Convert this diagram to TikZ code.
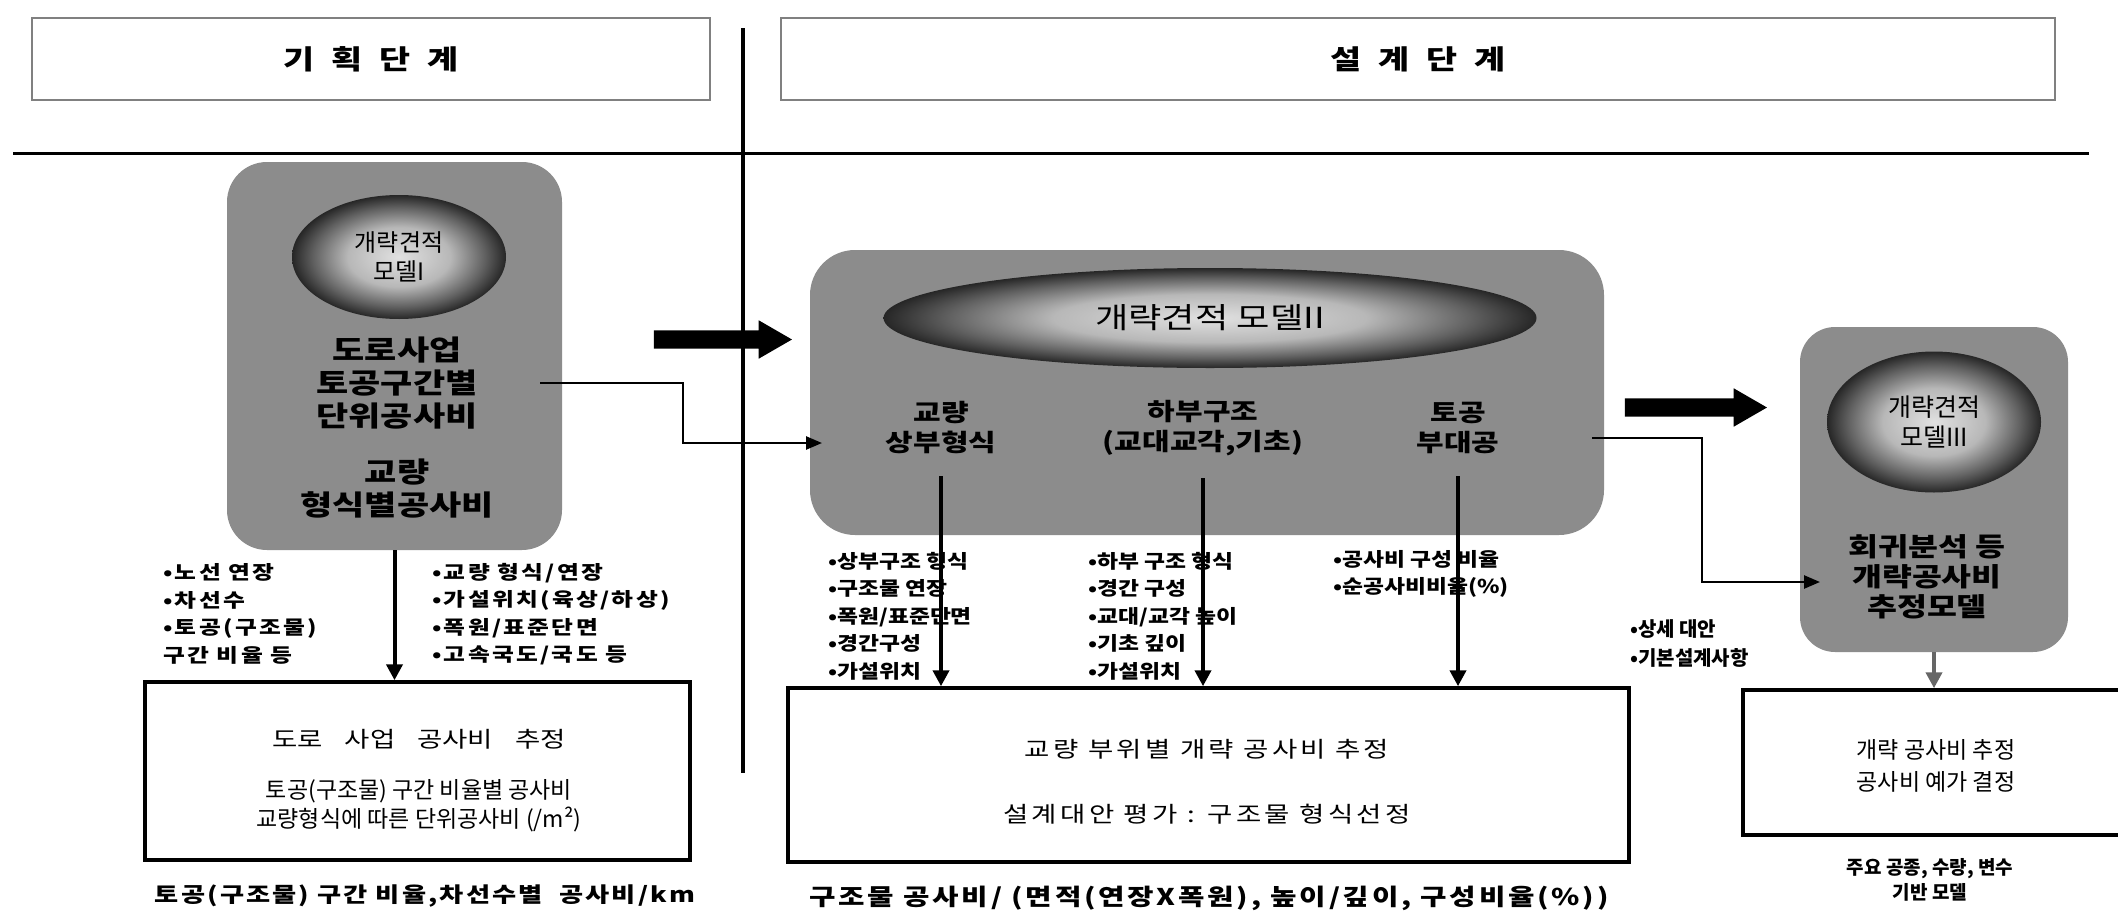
\documentclass[tikz,border=0pt]{standalone}
\usepackage{fontspec}
\setmainfont{Noto Sans CJK KR}
\newfontfamily\wfont[FakeStretch=1.25]{Noto Sans CJK KR}
\newfontfamily\mfont[FakeStretch=1.2]{Noto Sans CJK KR}
\usetikzlibrary{shapes.geometric,shapes.arrows,arrows.meta,calc}
\pgfdeclareradialshading{ellsh}{\pgfpoint{0bp}{0bp}}{color(0bp)=(black!12); color(12bp)=(black!28); color(20bp)=(black!62); color(25bp)=(black!85); color(50bp)=(black!85)}
\tikzset{
  hdr/.style={draw=black!50, line width=2pt, inner sep=0pt, font=\wfont\fontsize{27}{30}\selectfont\bfseries},
  gbox/.style={fill=black!45, rounded corners=40pt, inner sep=0pt},
  ell/.style={ellipse, shade, shading=ellsh, inner sep=0pt, align=center},
  elltxt/.style={font=\fontsize{24}{29}\selectfont},
  bigtxt/.style={font=\wfont\fontsize{28}{33}\selectfont\bfseries, align=center, inner sep=0pt},
  subtxt/.style={font=\wfont\fontsize{24}{30}\selectfont\bfseries, align=center, inner sep=0pt},
  bulL/.style={font=\wfont\fontsize{19}{27.5}\selectfont\bfseries\addfontfeatures{LetterSpace=12}, align=left, inner sep=0pt, anchor=west},
  bulM/.style={font=\mfont\fontsize{19}{27.5}\selectfont\bfseries, align=left, inner sep=0pt, anchor=west},
  bulR/.style={font=\fontsize{20}{29}\selectfont\bfseries, align=left, inner sep=0pt, anchor=west},
  outbox/.style={draw=black, line width=3.5pt, inner sep=0pt},
  boxtxt/.style={font=\fontsize{23}{29}\selectfont, align=center, inner sep=0pt},
  boxtxtw/.style={font=\wfont\fontsize{22}{29}\selectfont\addfontfeatures{LetterSpace=15}, align=center, inner sep=0pt},
  captxt/.style={font=\wfont\fontsize{21}{26}\selectfont\bfseries\addfontfeatures{LetterSpace=10}, align=center, inner sep=0pt},
  varrow/.style={line width=4pt, -{Triangle[length=16pt,width=16pt]}},
  conn/.style={line width=2.5pt, -{Triangle[length=16pt,width=13pt]}},
  bigarrow/.style={single arrow, fill=black, inner xsep=0pt, inner ysep=9pt, minimum width=0pt, single arrow head extend=10pt, single arrow tip angle=60}
}
\begin{document}
\begin{tikzpicture}[x=1pt,y=-1pt]
\clip (0,0) rectangle (2118,918);
\fill[white] (0,0) rectangle (2118,918);

% headers
\node[hdr, minimum width=678pt, minimum height=82pt] (h1) at (371,59) {기\hspace{17pt}획\hspace{17pt}단\hspace{17pt}계};
\node[hdr, minimum width=1274pt, minimum height=82pt] (h2) at (1418,59) {설\hspace{17pt}계\hspace{17pt}단\hspace{17pt}계};
\coordinate (hl1) at (13,153);
\coordinate (hl2) at (2089,153);
\draw[line width=3pt] (hl1) -- (hl2);
\coordinate (vl1) at (743,28);
\coordinate (vl2) at (743,773);
\draw[line width=4pt] (vl1) -- (vl2);

% Model I
\node[gbox, minimum width=335pt, minimum height=388pt] (m1) at (394.5,356) {};
\node[ell, elltxt, minimum width=214pt, minimum height=124pt] (e1) at (399,257) {개략견적\\모델I};
\node[bigtxt] (t1) at (397,383) {도로사업\\토공구간별\\단위공사비};
\node[bigtxt] (t2) at (397,489) {교량\\형식별공사비};

% Model II
\node[gbox, rounded corners=45pt, minimum width=794pt, minimum height=285pt] (m2) at (1207,392.5) {};
\node[ell, font=\wfont\fontsize{29}{32}\selectfont, minimum width=653pt, minimum height=100pt] (e2) at (1210,318) {개략견적 모델II};
\node[subtxt] (s1) at (941,428) {교량\\상부형식};
\node[subtxt] (s2) at (1203,428) {하부구조\\(교대교각,기초)};
\node[subtxt] (s3) at (1458,428) {토공\\부대공};

% Model III
\node[gbox, rounded corners=35pt, minimum width=268pt, minimum height=325pt] (m3) at (1934,489.5) {};
\node[ell, font=\fontsize{25}{30}\selectfont, minimum width=214pt, minimum height=141pt] (e3) at (1934,422) {개략견적\\모델III};
\node[bigtxt, font=\wfont\fontsize{26}{30}\selectfont\bfseries] (t3) at (1927,577) {회귀분석 등\\개략공사비\\추정모델};

% big arrows
\node[bigarrow, minimum height=138pt] (ba1) at (715,339.5) {};
\node[bigarrow, minimum height=142pt] (ba2) at (1688,407.5) {};

% bullets
\node[bulL] (l1) at (163,614) {•노선 연장\\•차선수\\•토공(구조물)\\구간 비율 등};
\node[bulL] (l2) at (432,614) {•교량 형식/연장\\•가설위치(육상/하상)\\•폭원/표준단면\\•고속국도/국도 등};
\node[bulM] (n1) at (828,616) {•상부구조 형식\\•구조물 연장\\•폭원/표준단면\\•경간구성\\•가설위치};
\node[bulM] (n2) at (1088,616) {•하부 구조 형식\\•경간 구성\\•교대/교각 높이\\•기초 깊이\\•가설위치};
\node[bulM] (n3) at (1333,574) {•공사비 구성 비율\\•순공사비비율(\%)};
\node[bulR] (r1) at (1630,644) {•상세 대안\\•기본설계사항};

% output boxes
\node[outbox, minimum width=545pt, minimum height=178pt] (b1) at (417.5,771) {};
\node[boxtxt, font=\wfont\fontsize{22}{29}\selectfont] (b1a) at (419,739) {도로\hspace{22pt}사업\hspace{22pt}공사비\hspace{22pt}추정};
\node[boxtxt] (b1b) at (419,806) {토공(구조물) 구간 비율별 공사비\\교량형식에 따른 단위공사비 (/m²)};
\node[captxt] (c1) at (425,896) {토공(구조물) 구간 비율,차선수별\hspace{0.8em}공사비/km};

\node[outbox, minimum width=841pt, minimum height=174pt] (b2) at (1208.5,775) {};
\node[boxtxtw] (b2a) at (1207,749) {교량 부위별 개략 공사비 추정};
\node[boxtxtw] (b2b) at (1207,814) {설계대안 평가 : 구조물 형식선정};
\node[captxt, font=\wfont\fontsize{23}{26}\selectfont\bfseries\addfontfeatures{LetterSpace=12}] (c2) at (1209,898) {구조물 공사비/ (면적(연장X폭원), 높이/깊이, 구성비율(\%))};

\node[outbox, minimum width=390pt, minimum height=145pt] (b3) at (1938,762.5) {};
\node[boxtxt, font=\fontsize{23}{32}\selectfont] (b3a) at (1936,766) {개략 공사비 추정\\공사비 예가 결정};
\node[captxt, font=\fontsize{19}{25}\selectfont\bfseries] (c3) at (1930,880) {주요 공종, 수량, 변수\\기반 모델};

% vertical arrows
\draw[varrow] (m1.south) -- (m1.south |- b1.north);
\draw[varrow] ($(s1.south)+(0,22)$) -- (s1.south |- b2.north);
\draw[varrow] ($(s2.south)+(0,22)$) -- (s2.south |- b2.north);
\draw[varrow] ($(s3.south)+(0,22)$) -- (s3.south |- b2.north);
\draw[varrow, draw=black!60] (m3.south) -- (m3.south |- b3.north);

% connectors
\coordinate (c1s) at (540,383);
\coordinate (c1e) at (822,443);
\draw[conn] (c1s) -- ++(143,0) |- (c1e);
\coordinate (c2s) at (1592,438);
\coordinate (c2e) at (1820,582);
\draw[conn] (c2s) -- ++(110,0) |- (c2e);
\end{tikzpicture}
\end{document}
